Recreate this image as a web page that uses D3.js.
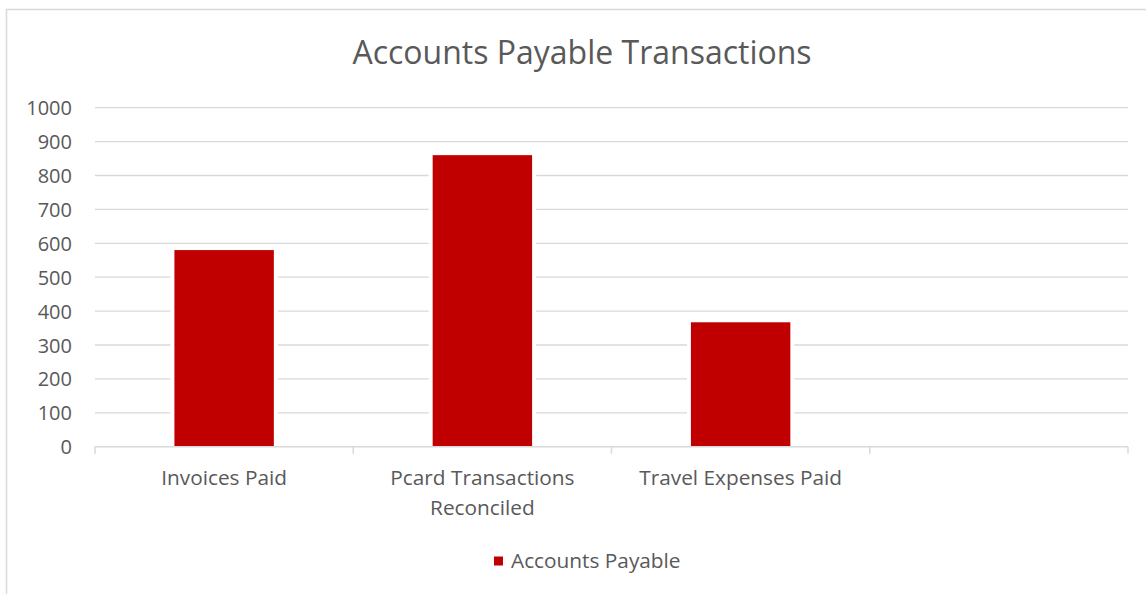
<!DOCTYPE html>
<html>
<head>
<meta charset="utf-8">
<title>Accounts Payable Transactions</title>
<script src="https://d3js.org/d3.v7.min.js"></script>
<style>
  body { margin: 0; background: #fff; }
  text { font-family: "Open Sans", sans-serif; fill: #595959; }
</style>
</head>
<body>
<div id="chart"></div>
<script>
// data
const categories = ["Invoices Paid", "Pcard Transactions\nReconciled", "Travel Expenses Paid", ""];
const values = [580, 860, 367, null];
const yTicks = [0, 100, 200, 300, 400, 500, 600, 700, 800, 900, 1000];
const seriesName = "Accounts Payable";
const chartTitle = "Accounts Payable Transactions";

const W = 1146, H = 594;
const margin = {top: 107.7, right: 18, bottom: 147.3, left: 95};

const svg = d3.select("#chart").append("svg")
    .attr("width", W)
    .attr("height", H);

// chart frame
svg.append("rect")
    .attr("x", 6.5).attr("y", 9.5)
    .attr("width", W + 20).attr("height", H + 20)
    .attr("fill", "#fff")
    .attr("stroke", "#d9d9d9")
    .attr("stroke-width", 1.5);

const x = d3.scaleBand()
    .domain(categories)
    .range([margin.left, W - margin.right])
    .paddingInner(0).paddingOuter(0);

const y = d3.scaleLinear()
    .domain([0, 1000])
    .range([H - margin.bottom, margin.top]);

// gridlines
svg.append("g")
    .selectAll("line")
    .data(yTicks.filter(d => d > 0))
    .join("line")
    .attr("x1", margin.left).attr("x2", W - margin.right)
    .attr("y1", d => y(d)).attr("y2", d => y(d))
    .attr("stroke", "#d9d9d9")
    .attr("stroke-width", 1.3);

// y axis labels
const yAxis = d3.axisLeft(y).tickValues(yTicks).tickFormat(d3.format("d")).tickSize(0).tickPadding(0);
svg.append("g")
    .attr("transform", "translate(72,0)")
    .call(yAxis)
    .call(g => g.select(".domain").remove())
    .call(g => g.selectAll("text")
        .attr("font-size", "20px")
        .attr("font-family", "Open Sans, sans-serif")
        .attr("fill", "#595959")
        .attr("dy", "0.35em"));

// bars
const barW = x.bandwidth() * 0.385;
const barData = categories.map((c, i) => ({c: c, v: values[i]})).filter(d => d.v != null);

const bars = svg.append("g");
bars.selectAll("rect.gap")
    .data(barData)
    .join("rect")
    .attr("class", "gap")
    .attr("x", d => x(d.c) + (x.bandwidth() - barW) / 2 - 4)
    .attr("width", barW + 8)
    .attr("y", d => y(d.v))
    .attr("height", d => y(0) - y(d.v))
    .attr("fill", "#fff");
bars.selectAll("rect.bar")
    .data(barData)
    .join("rect")
    .attr("class", "bar")
    .attr("x", d => x(d.c) + (x.bandwidth() - barW) / 2)
    .attr("width", barW)
    .attr("y", d => y(d.v))
    .attr("height", d => y(0) - y(d.v))
    .attr("fill", "#c00000");

// x axis
const xAxisG = svg.append("g")
    .attr("transform", "translate(0," + y(0) + ")");
xAxisG.append("line")
    .attr("x1", margin.left).attr("x2", W - margin.right)
    .attr("stroke", "#d9d9d9").attr("stroke-width", 1.5);
const edges = categories.map(c => x(c)).concat([W - margin.right]);
xAxisG.selectAll("line.tick")
    .data(edges)
    .join("line")
    .attr("class", "tick")
    .attr("x1", d => d).attr("x2", d => d)
    .attr("y1", 0).attr("y2", 7)
    .attr("stroke", "#d9d9d9").attr("stroke-width", 1.5);

const labels = xAxisG.selectAll("text.cat")
    .data(categories)
    .join("text")
    .attr("class", "cat")
    .attr("text-anchor", "middle")
    .attr("font-size", "20.8px")
    .attr("transform", d => "translate(" + (x(d) + x.bandwidth() / 2) + ",38)");
labels.each(function(d) {
    d3.select(this).selectAll("tspan")
        .data(d.split("\n"))
        .join("tspan")
        .attr("x", 0)
        .attr("dy", (t, i) => i === 0 ? 0 : 30)
        .text(t => t);
});

// title
svg.append("text")
    .attr("x", 582).attr("y", 64)
    .attr("text-anchor", "middle")
    .attr("font-size", "32px")
    .text(chartTitle);

// legend
const legend = svg.append("g").attr("transform", "translate(494,561)");
legend.append("rect")
    .attr("x", 0).attr("y", -4.5)
    .attr("width", 9).attr("height", 9)
    .attr("fill", "#c00000");
legend.append("text")
    .attr("x", 17).attr("dy", "0.35em")
    .attr("font-size", "20.8px")
    .text(seriesName);
</script>
</body>
</html>
